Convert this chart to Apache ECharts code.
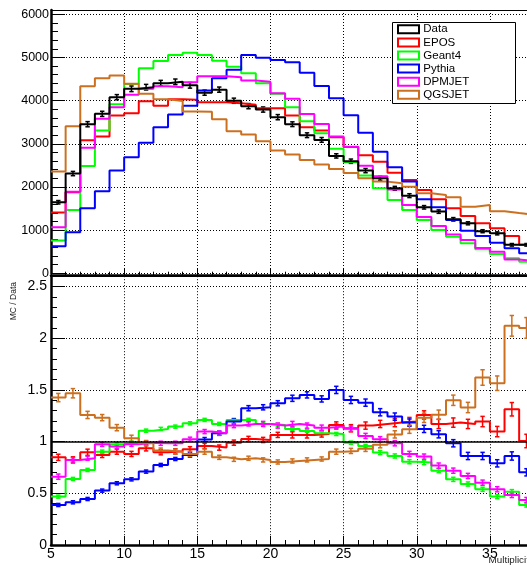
<!DOCTYPE html>
<html><head><meta charset="utf-8">
<script src="https://cdn.jsdelivr.net/npm/echarts@6/dist/echarts.min.js"></script>
<style>html,body{margin:0;padding:0;overflow:hidden;width:527px;height:565px;background:#fff}#c{width:540px;height:565px}</style>
</head><body><div id="c"></div>
<script>
// ---- categories (bin edges of Multiplicity) ----
const binEdges = [5,6,7,8,9,10,11,12,13,14,15,16,17,18,19,20,21,22,23,24,25,26,27,28,29,30,31,32,33,34,35,36,37,38];
const xTicks = [5,10,15,20,25,30,35];
const topYTicks = [0,1000,2000,3000,4000,5000,6000];
const ratioYTicks = [0,0.5,1,1.5,2,2.5];
const seriesNames = ['Data','EPOS','Geant4','Pythia','DPMJET','QGSJET'];

// ---- top panel: counts per bin ----
const dataVals   = [1646,2311,3454,3694,4080,4274,4312,4405,4436,4355,4185,4255,3998,3872,3794,3617,3454,3199,3091,2720,2597,2380,2201,1969,1799,1529,1429,1251,1158,975,925,660,660];
const dataErr    = [40,50,60,60,60,65,65,65,65,65,60,60,60,60,60,60,55,55,55,50,50,50,45,45,45,40,40,40,35,35,35,30,30];
const eposVals   = [1406,1878,3083,3168,3655,3709,3988,3879,4030,4020,3965,3965,3942,3903,3825,3825,3655,3385,3308,3153,2925,2734,2587,2332,2162,1931,1714,1506,1328,1158,1042,865,660];
const geant4Vals = [757,1468,2488,3308,3918,4385,4749,4918,5057,5110,5057,4926,4786,4633,4401,4158,3849,3524,3246,2883,2573,2264,1969,1699,1467,1236,1004,849,695,556,448,347,270];
const pythiaVals = [626,951,1507,1901,2380,2689,3022,3385,3679,3879,4235,4521,4714,5057,4995,4941,4887,4647,4339,4053,3660,3257,2818,2456,2124,1714,1529,1236,988,865,710,579,463];
const dpmjetVals = [1066,1890,2906,3578,3849,4134,4274,4335,4312,4428,4567,4567,4544,4467,4438,4169,4045,3690,3459,3170,2930,2490,2250,1940,1585,1307,1097,900,774,588,499,319,287];
const qgsjetVals = [2357,3408,4335,4521,4583,4390,4160,4030,3990,3750,3740,3570,3290,3215,3060,2844,2751,2627,2519,2419,2326,2200,2124,2085,2008,1853,1815,1761,1540,1580,1440,1395,1355];

// ---- bottom panel: MC / Data ----
const rEpos   = [0.848,0.823,0.897,0.871,0.903,0.881,0.935,0.897,0.906,0.926,0.958,0.942,0.99,1.026,1.016,1.065,1.065,1.065,1.074,1.161,1.129,1.155,1.171,1.184,1.194,1.258,1.171,1.184,1.171,1.194,1.097,1.313,1.006];
const rGeant4 = [0.468,0.639,0.726,0.903,0.974,0.99,1.106,1.123,1.145,1.177,1.21,1.171,1.21,1.21,1.171,1.161,1.123,1.103,1.081,1.074,0.99,0.958,0.894,0.861,0.806,0.797,0.719,0.635,0.59,0.539,0.468,0.516,0.387];
const rPythia = [0.387,0.413,0.445,0.526,0.597,0.635,0.71,0.774,0.832,0.87,1.02,1.081,1.194,1.323,1.332,1.371,1.419,1.452,1.413,1.5,1.403,1.377,1.284,1.242,1.184,1.123,1.071,0.984,0.861,0.861,0.79,0.861,0.703];
const rDpmjet = [0.661,0.823,0.839,0.974,0.952,0.974,0.99,0.984,0.984,1.023,1.097,1.081,1.155,1.171,1.171,1.155,1.171,1.155,1.135,1.145,1.125,1.055,1.023,0.984,0.881,0.855,0.768,0.719,0.668,0.603,0.539,0.484,0.435];
const rQgsjet = [1.426,1.468,1.258,1.232,1.135,1.032,0.984,0.913,0.903,0.881,0.903,0.848,0.829,0.839,0.823,0.803,0.813,0.823,0.832,0.903,0.91,0.93,0.97,1.07,1.12,1.23,1.26,1.40,1.33,1.62,1.565,2.12,2.10];
const rEposErr   = [0.03,0.03,0.03,0.025,0.025,0.025,0.025,0.025,0.025,0.025,0.025,0.025,0.025,0.025,0.025,0.025,0.03,0.03,0.03,0.03,0.035,0.035,0.035,0.04,0.04,0.04,0.045,0.045,0.045,0.05,0.05,0.065,0.065];
const rGeant4Err = [0.015,0.015,0.015,0.015,0.015,0.015,0.015,0.015,0.015,0.015,0.015,0.015,0.015,0.015,0.015,0.015,0.015,0.015,0.015,0.015,0.015,0.015,0.02,0.02,0.02,0.02,0.02,0.02,0.02,0.02,0.02,0.02,0.02];
const rPythiaErr = [0.015,0.015,0.015,0.015,0.015,0.015,0.015,0.015,0.015,0.02,0.02,0.02,0.025,0.025,0.025,0.025,0.03,0.03,0.03,0.035,0.035,0.035,0.035,0.035,0.035,0.035,0.035,0.035,0.035,0.035,0.035,0.04,0.035];
const rDpmjetErr = [0.025,0.02,0.02,0.02,0.02,0.02,0.02,0.02,0.02,0.02,0.02,0.02,0.02,0.02,0.025,0.025,0.025,0.025,0.025,0.025,0.025,0.025,0.025,0.025,0.025,0.025,0.025,0.025,0.025,0.025,0.025,0.025,0.025];
const rQgsjetErr = [0.04,0.045,0.035,0.03,0.03,0.03,0.025,0.025,0.025,0.025,0.025,0.02,0.02,0.02,0.02,0.02,0.02,0.02,0.02,0.025,0.025,0.025,0.03,0.035,0.04,0.045,0.045,0.05,0.05,0.075,0.07,0.1,0.1];

const colors = {Data:'#000000', EPOS:'#ff0000', Geant4:'#00ff00', Pythia:'#0000ff', DPMJET:'#ff00ff', QGSJET:'#cc7020'};
const FONT = '"Liberation Sans", Arial, Helvetica, sans-serif';

function stepData(vals){
  const d = vals.map((v,i)=>[binEdges[i], v]);
  d.push([binEdges[vals.length], vals[vals.length-1]]);
  return d;
}
function errData(vals, errs){
  return vals.map((v,i)=>[(binEdges[i]+binEdges[i+1])/2, v, errs[i]]);
}
function errRenderer(color, lw){
  return function(params, api){
    const x = api.value(0), y = api.value(1), e = api.value(2);
    const p1 = api.coord([x, y+e]), p2 = api.coord([x, y-e]);
    const cw = 2.2;
    const st = {stroke: color, lineWidth: lw};
    return {type:'group', children:[
      {type:'line', shape:{x1:p1[0], y1:p1[1], x2:p2[0], y2:p2[1]}, style:st},
      {type:'line', shape:{x1:p1[0]-cw, y1:p1[1], x2:p1[0]+cw, y2:p1[1]}, style:st},
      {type:'line', shape:{x1:p2[0]-cw, y1:p2[1], x2:p2[0]+cw, y2:p2[1]}, style:st}
    ]};
  };
}
function stepSeries(name, vals, xi, yi, extra){
  return Object.assign({
    name, type:'line', step:'end', xAxisIndex:xi, yAxisIndex:yi,
    data: stepData(vals), showSymbol:false, symbol:'none',
    lineStyle:{color:colors[name], width:2}, itemStyle:{color:colors[name]},
    animation:false, silent:true
  }, extra||{});
}
function errSeries(name, vals, errs, xi, yi, lw){
  return {
    name, type:'custom', xAxisIndex:xi, yAxisIndex:yi,
    data: errData(vals, errs), dimensions:['x','y','e'], encode:{x:0, y:1},
    renderItem: errRenderer(colors[name], lw), animation:false, silent:true
  };
}

const dotted = {show:true, lineStyle:{color:'#000', type:[1,2], width:1}};
const gridW = (binEdges[binEdges.length-1]-binEdges[0]) * 14.63;

const option = {
  animation:false,
  backgroundColor:'#fff',
  grid:[
    {left:51, top:10, width:gridW, height:263.3},
    {left:51, top:276.2, width:gridW, height:268.8}
  ],
  xAxis:[
    {gridIndex:0, type:'value', min:binEdges[0], max:binEdges[binEdges.length-1], interval:xTicks[1]-xTicks[0], position:'bottom', offset:2.4,
     axisLine:{onZero:false, lineStyle:{color:'#000', width:2.5}},
     axisTick:{inside:true, length:7, lineStyle:{color:'#000', width:1}},
     minorTick:{show:true, splitNumber:5, length:4, lineStyle:{color:'#000', width:1}},
     axisLabel:{show:false}, splitLine:dotted},
    {gridIndex:1, type:'value', min:binEdges[0], max:binEdges[binEdges.length-1], interval:xTicks[1]-xTicks[0], position:'bottom',
     axisLine:{onZero:false, lineStyle:{color:'#000', width:2.5}},
     axisTick:{inside:true, length:9, lineStyle:{color:'#000', width:1}},
     minorTick:{show:true, splitNumber:5, length:5, lineStyle:{color:'#000', width:1}},
     axisLabel:{show:true, fontSize:14, margin:2, color:'#000', fontFamily:FONT, showMaxLabel:false, formatter:v=>String(v)},
     splitLine:dotted},
    {gridIndex:0, type:'value', min:binEdges[0], max:binEdges[binEdges.length-1], position:'top',
     axisLine:{onZero:false, lineStyle:{color:'#000', width:1}}, axisTick:{show:false}, axisLabel:{show:false}, splitLine:{show:false}},
    {gridIndex:1, type:'value', min:binEdges[0], max:binEdges[binEdges.length-1], position:'top',
     axisLine:{onZero:false, lineStyle:{color:'#000', width:1}}, axisTick:{show:false}, axisLabel:{show:false}, splitLine:{show:false}}
  ],
  yAxis:[
    {gridIndex:0, type:'value', min:topYTicks[0], max:6100, interval:topYTicks[1]-topYTicks[0],
     axisLine:{show:true, onZero:false, lineStyle:{color:'#000', width:2.5}},
     axisTick:{show:true, inside:true, length:14, lineStyle:{color:'#000', width:1}},
     minorTick:{show:true, splitNumber:5, length:7, lineStyle:{color:'#000', width:1}},
     axisLabel:{fontSize:12.5, margin:2, color:'#000', fontFamily:FONT, showMaxLabel:false, formatter:v=>String(v)},
     splitLine:dotted},
    {gridIndex:1, type:'value', min:ratioYTicks[0], max:2.6, interval:ratioYTicks[1]-ratioYTicks[0],
     axisLine:{show:true, onZero:false, lineStyle:{color:'#000', width:2.5}},
     axisTick:{show:true, inside:true, length:14, lineStyle:{color:'#000', width:1}},
     minorTick:{show:true, splitNumber:5, length:6, lineStyle:{color:'#000', width:1}},
     axisLabel:{fontSize:14, margin:4, color:'#000', fontFamily:FONT, showMaxLabel:false, formatter:v=>String(v)},
     splitLine:dotted}
  ],
  series:[
    stepSeries('EPOS', eposVals, 0, 0),
    stepSeries('Geant4', geant4Vals, 0, 0),
    stepSeries('Pythia', pythiaVals, 0, 0),
    stepSeries('DPMJET', dpmjetVals, 0, 0),
    stepSeries('QGSJET', qgsjetVals, 0, 0),
    stepSeries('Data', dataVals, 0, 0),
    errSeries('Data', dataVals, dataErr, 0, 0, 1.5),

    stepSeries('EPOS', rEpos, 1, 1, {markLine:{silent:true, symbol:['none','none'], animation:false, label:{show:false},
      lineStyle:{color:'#000', width:1.5, type:'solid'}, data:[{yAxis:1}]}}),
    errSeries('EPOS', rEpos, rEposErr, 1, 1, 1.5),
    stepSeries('Geant4', rGeant4, 1, 1),
    errSeries('Geant4', rGeant4, rGeant4Err, 1, 1, 1.5),
    stepSeries('Pythia', rPythia, 1, 1),
    errSeries('Pythia', rPythia, rPythiaErr, 1, 1, 1.5),
    stepSeries('DPMJET', rDpmjet, 1, 1),
    errSeries('DPMJET', rDpmjet, rDpmjetErr, 1, 1, 1.5),
    stepSeries('QGSJET', rQgsjet, 1, 1),
    errSeries('QGSJET', rQgsjet, rQgsjetErr, 1, 1, 1.5)
  ],
  graphic:[
    {type:'text', x:14, y:282, rotation:Math.PI/2, z:100,
     style:{text:'MC / Data', fontSize:8.5, fontFamily:FONT, fill:'#222', textAlign:'right', textVerticalAlign:'middle'}},
    {type:'text', x:533.8, y:560, z:100,
     style:{text:'Multiplicity', fontSize:9.8, fontFamily:FONT, fill:'#222', textAlign:'right', textVerticalAlign:'middle'}},
    {type:'rect', z:100, shape:{x:392.5, y:22.5, width:123, height:81}, style:{fill:'#fff', stroke:'#000', lineWidth:1}}
  ].concat(seriesNames.flatMap((n,i)=>{
    const cy = 29.3 + i*13.1;
    return [
      {type:'rect', z:101, shape:{x:398, y:cy-4, width:21, height:8}, style:{fill:'none', stroke:colors[n], lineWidth:2}},
      {type:'text', z:101, x:423.3, y:cy, style:{text:n, fontSize:11.5, fontFamily:FONT, fill:'#000', textAlign:'left', textVerticalAlign:'middle'}}
    ];
  }))
};
const chart = echarts.init(document.getElementById('c'), null, {renderer:'canvas'});
chart.setOption(option);
</script></body></html>
